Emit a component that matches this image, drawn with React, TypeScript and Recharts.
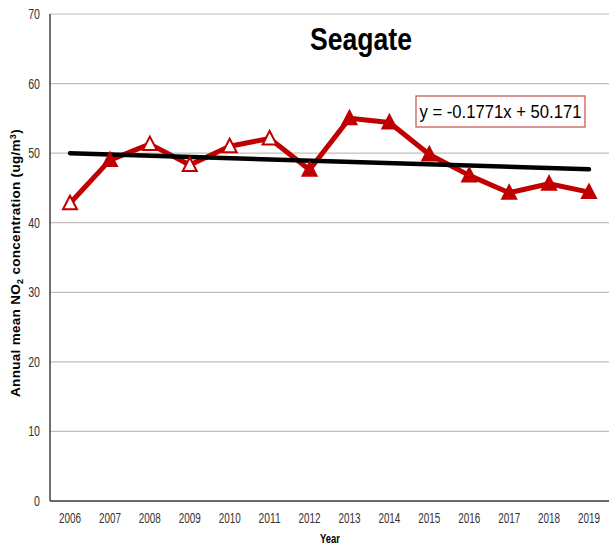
import React from "react";
import {
  CartesianGrid,
  Customized,
  Line,
  LineChart,
  XAxis,
  YAxis,
} from "recharts";

// Seagate annual mean NO2, 2006-2019, with linear trendline.

const years = [
  "2006", "2007", "2008", "2009", "2010", "2011", "2012",
  "2013", "2014", "2015", "2016", "2017", "2018", "2019",
];
const no2 = [42.8, 49.0, 51.3, 48.3, 51.0, 52.1, 47.6, 55.0, 54.4, 49.8, 46.8, 44.3, 45.6, 44.4];
// trendline endpoints (y = -0.1771x + 50.171 at x = 1 and x = 14)
const trend = [49.99, null, null, null, null, null, null, null, null, null, null, null, null, 47.69];
const hollowYears = ["2006", "2008", "2009", "2010", "2011"];
const yTicks = [0, 10, 20, 30, 40, 50, 60, 70];

const RED = "#C00000";
const SANS = '"Liberation Sans", Arial, sans-serif';

const data = years.map((year, i) => ({ year, no2: no2[i], trend: trend[i] }));

// reference text is a squeezed Arial, so fit glyphs to a width
function XTick(props: any) {
  const { x, y, payload } = props;
  return (
    <text
      x={x}
      y={y}
      dy="0.71em"
      textAnchor="middle"
      fontFamily={SANS}
      fontSize={14}
      fill="#333"
      textLength={22}
      lengthAdjust="spacingAndGlyphs"
    >
      {payload.value}
    </text>
  );
}

function YTick(props: any) {
  const { x, y, payload } = props;
  const s = String(payload.value);
  return (
    <text
      x={x}
      y={y}
      dy="0.355em"
      textAnchor="end"
      fontFamily={SANS}
      fontSize={14}
      fill="#333"
      textLength={s.length * 5.9}
      lengthAdjust="spacingAndGlyphs"
    >
      {s}
    </text>
  );
}

function TriangleDot(props: any) {
  const { cx, cy, payload } = props;
  if (cx == null || cy == null) return null;
  const hollow = hollowYears.includes(payload.year);
  const d = `M${cx},${cy - 7.5} L${cx + 7},${cy + 6} L${cx - 7},${cy + 6} Z`;
  return (
    <path
      d={d}
      fill={hollow ? "#FFFFFF" : RED}
      stroke={RED}
      strokeWidth={2}
    />
  );
}

function Annotations() {
  return (
    <g>
      <text
        x={361}
        y={50}
        textAnchor="middle"
        fontFamily={SANS}
        fontWeight="bold"
        fontSize={32}
        fill="#000"
        textLength={102}
        lengthAdjust="spacingAndGlyphs"
      >
        Seagate
      </text>
      <rect x={416} y={96} width={169} height={31} fill="#FFFFFF" stroke="#C0504D" strokeWidth={1.2} />
      <text
        x={500.5}
        y={118}
        textAnchor="middle"
        fontFamily={SANS}
        fontSize={19}
        fill="#000"
        textLength={162}
        lengthAdjust="spacingAndGlyphs"
      >
        y = -0.1771x + 50.171
      </text>
      <text
        x={20}
        y={263}
        transform="rotate(-90, 20, 263)"
        textAnchor="middle"
        fontFamily={SANS}
        fontWeight="bold"
        fontSize={13.5}
        letterSpacing={0.3}
        fill="#000"
      >
        Annual mean NO
        <tspan dy={3} fontSize={9}>2</tspan>
        <tspan dy={-3}> concentration (ug/m</tspan>
        <tspan dy={-4} fontSize={9}>3</tspan>
        <tspan dy={4}>)</tspan>
      </text>
      <text
        x={330}
        y={543}
        textAnchor="middle"
        fontFamily={SANS}
        fontWeight="bold"
        fontSize={13}
        fill="#000"
        textLength={20}
        lengthAdjust="spacingAndGlyphs"
      >
        Year
      </text>
    </g>
  );
}

export default function App() {
  return (
    <div style={{ position: "absolute", left: 0, top: 0, width: 609, height: 546, background: "#fff" }}>
      <LineChart
        width={609}
        height={546}
        data={data}
        margin={{ top: 14, right: 0, left: 0, bottom: 0 }}
      >
        <CartesianGrid vertical={false} stroke="#BFBFBF" strokeWidth={1.2} />
        <XAxis
          dataKey="year"
          type="category"
          padding={{ left: 20, right: 20 }}
          height={45}
          tickLine={false}
          tickMargin={6}
          axisLine={{ stroke: "#404040", strokeWidth: 1.5 }}
          tick={<XTick />}
          interval={0}
        />
        <YAxis
          width={50}
          domain={[0, 70]}
          ticks={yTicks}
          tickLine={false}
          tickMargin={4}
          axisLine={{ stroke: "#404040", strokeWidth: 1.5 }}
          tick={<YTick />}
        />
        <Line
          dataKey="no2"
          stroke={RED}
          strokeWidth={5}
          strokeLinejoin="round"
          dot={<TriangleDot />}
          activeDot={false}
          isAnimationActive={false}
        />
        <Line
          dataKey="trend"
          stroke="#000"
          strokeWidth={4.5}
          strokeLinecap="round"
          dot={false}
          activeDot={false}
          connectNulls
          isAnimationActive={false}
        />
        <Customized component={Annotations} />
      </LineChart>
    </div>
  );
}
